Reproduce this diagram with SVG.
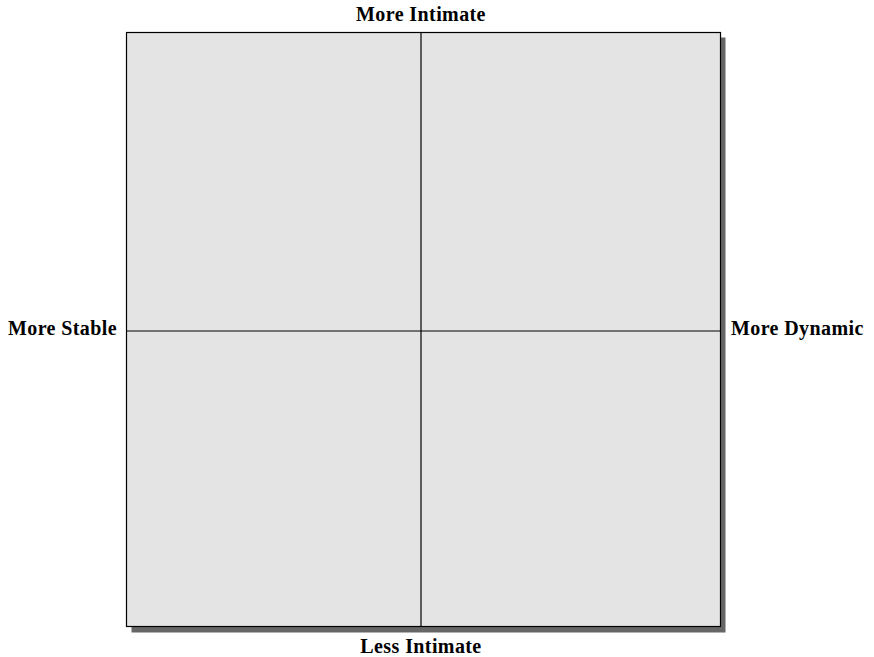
<svg xmlns="http://www.w3.org/2000/svg" width="874" height="657" viewBox="0 0 874 657">
<style>
.lbl{font-family:"Liberation Serif","Times New Roman",serif;font-weight:bold;font-size:20px;letter-spacing:0.4px;fill:#000}
.ln{stroke:#000;stroke-width:1.2;fill:none}
</style>
<rect width="874" height="657" fill="#fff"/>
<g id="quadrant">
<rect x="131.5" y="37.5" width="594" height="595" fill="#666"/>
<rect x="126.5" y="32.5" width="594" height="594" fill="#e4e4e4" stroke="#000" stroke-width="1.2"/>
</g>
<g id="axes">
<line class="ln" x1="421" y1="32.5" x2="421" y2="626.5"/>
<line class="ln" x1="126.5" y1="331" x2="720.5" y2="331"/>
</g>
<g id="labels">
<text class="lbl" x="421" y="21" text-anchor="middle">More Intimate</text>
<text class="lbl" x="421" y="653" text-anchor="middle">Less Intimate</text>
<text class="lbl" x="117" y="335" text-anchor="end">More Stable</text>
<text class="lbl" x="731" y="335">More Dynamic</text>
</g>
</svg>
